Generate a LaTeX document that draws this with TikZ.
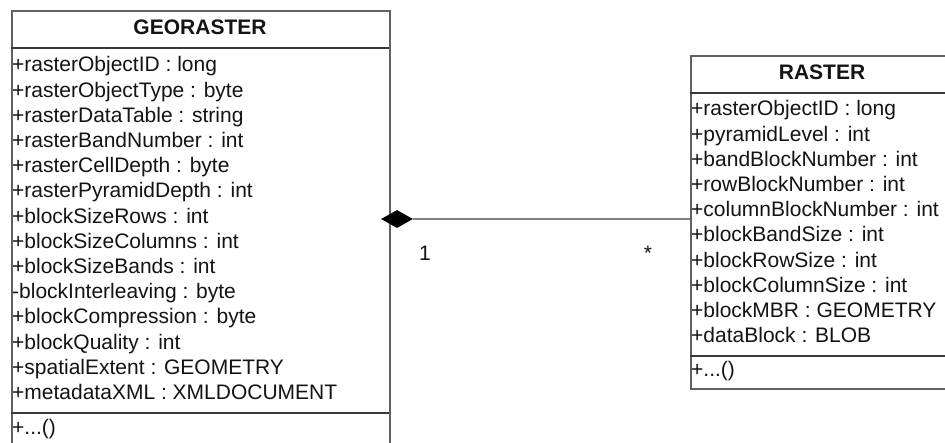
\documentclass[tikz,border=0pt]{standalone}
\usepackage{fontspec}
\setmainfont{Liberation Sans}
\usetikzlibrary{shapes.geometric}
\begin{document}
\begin{tikzpicture}[x=1pt,y=-1pt,
  classbox/.style={draw=black!62, line width=2pt, rectangle, inner sep=0pt, anchor=north west},
  sepline/.style={draw=black!78, line width=1.6pt},
  txt/.style={inner sep=0pt, font=\fontsize{21}{24}\selectfont, text=black!92},
  attr/.style={txt, anchor=base west},
  classname/.style={txt, anchor=base, font=\fontsize{21}{24}\selectfont\bfseries},
  mult/.style={txt, anchor=base},
  assoc/.style={draw=black!50, line width=2pt},
  comp/.style={diamond, fill=black, draw=none, inner sep=0pt, minimum width=32pt, minimum height=18pt}]
\clip (0,0) rectangle (945,443);
\fill[white] (0,0) rectangle (945,443);

% GEORASTER class (its lower edge runs past the page)
\node[classbox, minimum width=378pt, minimum height=470pt] (georaster) at (11,10) {};
\draw[sepline] (11,48) -- (389,48);
\draw[sepline] (11,413) -- (389,413);
\node[classname] (gtitle) at (200,35) {GEORASTER};
\foreach \t [count=\i from 0] in {
  +rasterObjectID : long,
  +rasterObjectType : byte,
  +rasterDataTable : string,
  +rasterBandNumber : int,
  +rasterCellDepth : byte,
  +rasterPyramidDepth : int,
  +blockSizeRows : int,
  +blockSizeColumns : int,
  +blockSizeBands : int,
  -blockInterleaving : byte,
  +blockCompression : byte,
  +blockQuality : int,
  +spatialExtent : GEOMETRY,
  +metadataXML : XMLDOCUMENT}
  \node[attr] (ga\i) at (12,{72+25.2*\i}) {\t};
\node[attr] (gop) at (12,434) {+...()};

% RASTER class (its right edge runs past the page)
\node[classbox, minimum width=264pt, minimum height=333pt] (raster) at (690,55) {};
\draw[sepline] (690,93) -- (954,93);
\draw[sepline] (690,356) -- (954,356);
\node[classname] (rtitle) at (822,80) {RASTER};
\foreach \t [count=\i from 0] in {
  +rasterObjectID : long,
  +pyramidLevel : int,
  +bandBlockNumber : int,
  +rowBlockNumber : int,
  +columnBlockNumber : int,
  +blockBandSize : int,
  +blockRowSize : int,
  +blockColumnSize : int,
  +blockMBR : GEOMETRY,
  +dataBlock : BLOB}
  \node[attr] (ra\i) at (691,{116+25.2*\i}) {\t};
\node[attr] (rop) at (691,377) {+...()};

% composition: GEORASTER 1 <>-- * RASTER
\node[comp] (dia) at (397,219) {};
\draw[assoc] (dia.east) -- (raster.west |- dia.east);
\node[mult] (m1) at (425,261) {1};
\node[mult] (m2) at (648,261) {*};
\end{tikzpicture}
\end{document}
